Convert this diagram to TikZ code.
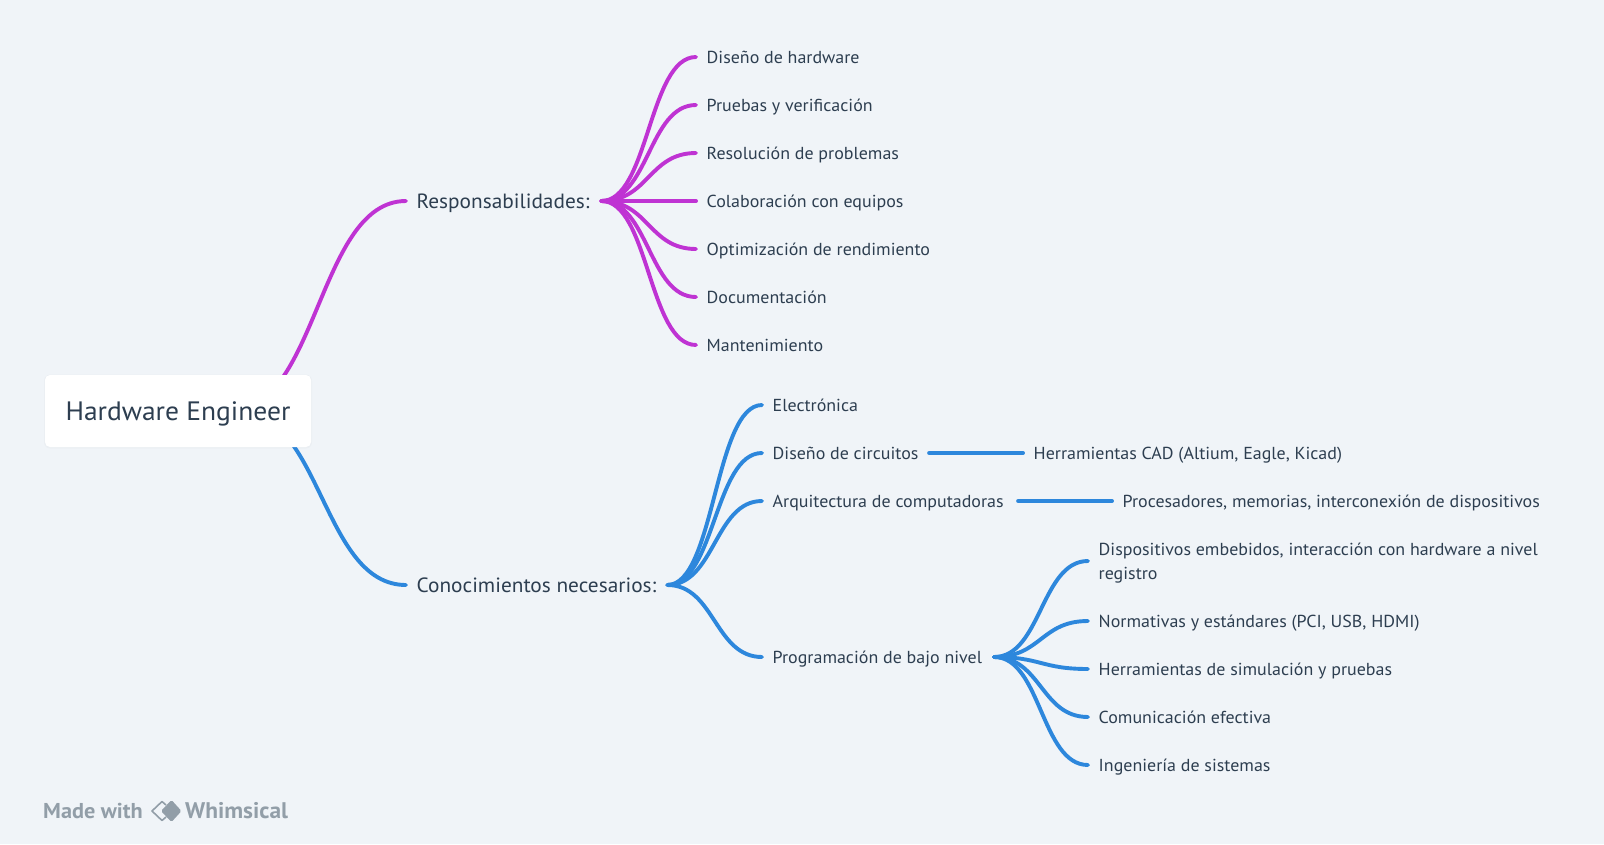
\documentclass[tikz,border=0pt]{standalone}
\usepackage{fontspec}
\setmainfont[FakeStretch=1.035]{PT Sans}
\usetikzlibrary{calc}
\definecolor{bgc}{HTML}{F0F4F8}
\definecolor{ink}{HTML}{2D3E50}
\definecolor{pur}{HTML}{BF33D3}
\definecolor{blu}{HTML}{2D87DC}
\definecolor{gry}{HTML}{929EA8}
\pgfdeclarelayer{bgl}
\pgfdeclarelayer{conn}
\pgfsetlayers{bgl,conn,main}
\newcommand\tbox[2]{\makebox[#1pt][l]{#2}}
\newcommand\link[3]{\begin{pgfonlayer}{conn}\draw[#1] let \p1=(#2),\p2=(#3),\n1={(\x2-\x1)/2} in (\p1) .. controls (\x1+\n1,\y1) and (\x2-\n1,\y2) .. (\p2);\end{pgfonlayer}}
\tikzset{
  tx/.style={anchor=west,inner xsep=10.5pt,inner ysep=0pt,text=ink,align=left},
  leaf/.style={tx,text height=14.3pt,text depth=1.7pt,font=\fontsize{17.35}{24}\selectfont},
  mid/.style={tx,text height=16pt,text depth=1.6pt,font=\fontsize{20.6}{24}\selectfont},
  rootbox/.style={fill=white,rounded corners=5pt,minimum width=266pt,minimum height=72pt,inner sep=0pt,text=ink,text height=20pt,text depth=2pt,font=\fontsize{26.6}{30}\selectfont},
  pl/.style={draw=pur,line width=3.9pt,line cap=round},
  bl/.style={draw=blu,line width=3.9pt,line cap=round},
  logo/.style={anchor=west,inner sep=0pt,text=gry,text height=16pt,text depth=2pt,font=\fontsize{22}{26}\bfseries\selectfont}
}
\begin{document}
\begin{tikzpicture}[x=1pt,y=-1pt]
\begin{pgfonlayer}{bgl}
\fill[bgc] (0,0) rectangle (1604,844);
\end{pgfonlayer}
\useasboundingbox (0,0) rectangle (1604,844);
% root
\fill[black,opacity=.02,rounded corners=6pt] (44,374.5) rectangle (312,448.5);
\node[rootbox] (root) at (178,411) {Hardware Engineer};
\coordinate (rootp) at (230,411);
\coordinate (rootb) at (238,411);
% level 1
\node[mid] (resp) at (406,201) {\tbox{174}{Responsabilidades:}};
\node[mid] (cono) at (406,585) {\tbox{240}{Conocimientos necesarios:}};
\link{pl}{rootp}{resp.west}
\link{bl}{rootb}{cono.west}
% responsibilities
\node[leaf] (r1) at (696,57) {Diseño de hardware};
\node[leaf] (r2) at (696,105) {Pruebas y verificación};
\node[leaf] (r3) at (696,153) {Resolución de problemas};
\node[leaf] (r4) at (696,201) {Colaboración con equipos};
\node[leaf] (r5) at (696,249) {Optimización de rendimiento};
\node[leaf] (r6) at (696,297) {Documentación};
\node[leaf] (r7) at (696,345) {Mantenimiento};
\foreach \kid in {r1,r2,r3,r4,r5,r6,r7}{\link{pl}{resp.east}{\kid.west}}
% knowledge
\node[leaf] (k1) at (762,405) {Electrónica};
\node[leaf] (k2) at (762,453) {\tbox{145.7}{Diseño de circuitos}};
\node[leaf] (k3) at (762,501) {\tbox{234.7}{Arquitectura de computadoras}};
\node[leaf] (k4) at (762,657) {\tbox{210.7}{Programación de bajo nivel}};
\foreach \kid in {k1,k2,k3,k4}{\link{bl}{cono.east}{\kid.west}}
\node[leaf] (k2a) at (1023,453) {Herramientas CAD (Altium, Eagle, Kicad)};
\node[leaf] (k3a) at (1112,501) {Procesadores, memorias, interconexión de dispositivos};
\link{bl}{k2.east}{k2a.west}
\link{bl}{k3.east}{k3a.west}
\node[leaf,text height=38.3pt] (p1) at (1088,561) {Dispositivos embebidos, interacción con hardware a nivel\\registro};
\node[leaf] (p2) at (1088,621) {Normativas y estándares (PCI, USB, HDMI)};
\node[leaf] (p3) at (1088,669) {Herramientas de simulación y pruebas};
\node[leaf] (p4) at (1088,717) {Comunicación efectiva};
\node[leaf] (p5) at (1088,765) {Ingeniería de sistemas};
\foreach \kid in {p1,p2,p3,p4,p5}{\link{bl}{k4.east}{\kid.west}}
% watermark
\node[logo,font=\fontsize{21.5}{26}\bfseries\selectfont] (made) at (43,811) {Made with};
\node[logo,font=\fontsize{22.6}{26}\bfseries\selectfont] (whim) at (185,811) {Whimsical};
\draw[gry,line width=1.6pt,line join=round] (162,801.5) -- (152,811) -- (162,820.5);
\draw[gry,line width=1.6pt,line join=round] (162,801.5) -- (166,805);
\draw[gry,line width=1.6pt,line join=round] (162,820.5) -- (166,817);
\fill[gry,rounded corners=1.5pt] (171.5,800) -- (181.5,811) -- (171.5,822) -- (161,811) -- cycle;
\end{tikzpicture}
\end{document}
